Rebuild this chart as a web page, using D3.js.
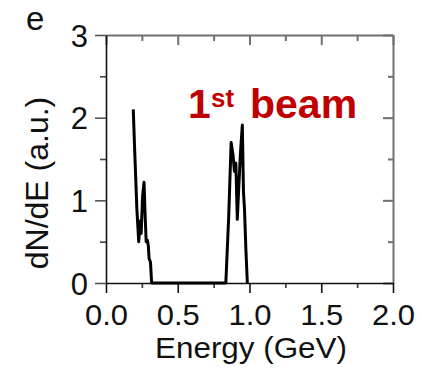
<!DOCTYPE html>
<html>
<head>
<meta charset="utf-8">
<script src="https://cdn.jsdelivr.net/npm/d3@7"></script>
<style>
  html, body { margin: 0; padding: 0; background: #fff; }
  svg text { font-family: "Liberation Sans", Arial, Helvetica, sans-serif; }
</style>
</head>
<body>
<svg id="chart" width="422" height="368"></svg>
<script>
// Electron spectrum of the first beam: energy (GeV) vs dN/dE (a.u.)
const energy = [0.190, 0.200, 0.215, 0.228, 0.238, 0.245, 0.255, 0.265, 0.272, 0.280, 0.288, 0.295, 0.300, 0.310, 0.318,
                0.835, 0.855, 0.872, 0.885, 0.895, 0.905, 0.915, 0.925, 0.938, 0.950, 0.958, 0.965, 0.975, 0.985];
const dNdE   = [2.10, 1.60, 0.90, 0.50, 0.75, 0.60, 1.05, 1.22, 0.85, 0.50, 0.52, 0.45, 0.30, 0.25, 0.00,
                0.00, 0.80, 1.70, 1.55, 1.35, 1.45, 0.77, 1.15, 1.60, 1.91, 1.10, 0.90, 0.40, 0.00];

const xMajor = [0, 0.5, 1.0, 1.5, 2.0];
const xMinor = [0.25, 0.75, 1.25, 1.75];
const yMajor = [0, 1, 2, 3];
const yMinor = [0.5, 1.5, 2.5];

const panelLetter = "e";
const xTitle = "Energy (GeV)";
const yTitle = "dN/dE (a.u.)";

const svg = d3.select("#chart");
const L = 106, R = 393, T = 35, B = 283;

const x = d3.scaleLinear().domain([0, 2]).range([L, R]);
const y = d3.scaleLinear().domain([0, 3]).range([B, T]);

const labelSize = 30;
const frameGray = "#707070";

function styleAxis(g, color, width) {
  g.select(".domain").attr("stroke", color).attr("stroke-width", width);
  g.selectAll(".tick line").attr("stroke", color).attr("stroke-width", width);
}

// top and right frame with inward ticks
svg.append("g").attr("transform", `translate(0,${T})`)
  .call(d3.axisTop(x).tickValues(xMajor).tickSize(-10).tickSizeOuter(0).tickFormat(""))
  .call(g => styleAxis(g, frameGray, 2));
svg.append("g").attr("transform", `translate(0,${T})`)
  .call(d3.axisTop(x).tickValues(xMinor).tickSize(-6).tickSizeOuter(0).tickFormat(""))
  .call(g => { g.select(".domain").remove(); styleAxis(g, frameGray, 2); });

svg.append("g").attr("transform", `translate(${R},0)`)
  .call(d3.axisRight(y).tickValues(yMajor).tickSize(-10).tickSizeOuter(0).tickFormat(""))
  .call(g => styleAxis(g, frameGray, 2));
svg.append("g").attr("transform", `translate(${R},0)`)
  .call(d3.axisRight(y).tickValues(yMinor).tickSize(-5).tickSizeOuter(0).tickFormat(""))
  .call(g => { g.select(".domain").remove(); styleAxis(g, frameGray, 2); });

// bottom axis, outward ticks
svg.append("g").attr("transform", `translate(0,${B})`)
  .call(d3.axisBottom(x).tickValues(xMinor).tickSize(5).tickSizeOuter(0).tickFormat(""))
  .call(g => { g.select(".domain").remove(); styleAxis(g, "#333", 1.6); });
svg.append("g").attr("transform", `translate(0,${B})`)
  .call(d3.axisBottom(x).tickValues(xMajor).tickSize(10).tickSizeOuter(0).tickFormat(d3.format(".1f")))
  .call(g => {
    styleAxis(g, "#111", 1.6);
    g.selectAll(".tick text").attr("y", 42).attr("dy", 0)
      .attr("font-size", labelSize).attr("fill", "#111")
      .attr("textLength", 43).attr("lengthAdjust", "spacingAndGlyphs")
      .style("font-family", "'Liberation Sans', Arial, sans-serif");
  });

// left axis, outward ticks
svg.append("g").attr("transform", `translate(${L},0)`)
  .call(d3.axisLeft(y).tickValues(yMinor).tickSize(6).tickSizeOuter(0).tickFormat(""))
  .call(g => { g.select(".domain").remove(); styleAxis(g, "#444", 1.6); });
svg.append("g").attr("transform", `translate(${L},0)`)
  .call(d3.axisLeft(y).tickValues(yMajor).tickSize(11).tickSizeOuter(0).tickFormat(d3.format("d")))
  .call(g => {
    styleAxis(g, "#111", 1.6);
    g.selectAll(".tick line").attr("stroke", "#555");
    g.selectAll(".tick text").attr("x", -18).attr("dy", "0.36em")
      .attr("font-size", 31).attr("fill", "#111")
      .style("font-family", "'Liberation Sans', Arial, sans-serif");
  });

// spectrum trace
const line = d3.line().x((d, i) => x(energy[i])).y(d => y(d));
svg.append("path")
  .datum(dNdE)
  .attr("fill", "none")
  .attr("stroke", "#000")
  .attr("stroke-width", 3)
  .attr("stroke-linejoin", "round")
  .attr("d", line);

// axis titles
svg.append("text")
  .attr("x", 251).attr("y", 358)
  .attr("text-anchor", "middle")
  .attr("font-size", 30).attr("fill", "#111")
  .attr("textLength", 192).attr("lengthAdjust", "spacingAndGlyphs")
  .text(xTitle);

svg.append("text")
  .attr("transform", "translate(48,183) rotate(-90)")
  .attr("text-anchor", "middle")
  .attr("font-size", 32).attr("fill", "#111")
  .text(yTitle);

// panel letter
svg.append("text")
  .attr("x", 26).attr("y", 30)
  .attr("font-size", 33).attr("fill", "#111")
  .text(panelLetter);

// beam annotation
const note = svg.append("text")
  .attr("fill", "#c00000").attr("font-weight", "bold");
note.append("tspan").attr("x", 188).attr("y", 118).attr("font-size", 41).text("1");
note.append("tspan").attr("x", 211).attr("y", 107).attr("font-size", 26).text("st");
note.append("tspan").attr("x", 250).attr("y", 118).attr("font-size", 41).text("beam");
</script>
</body>
</html>
